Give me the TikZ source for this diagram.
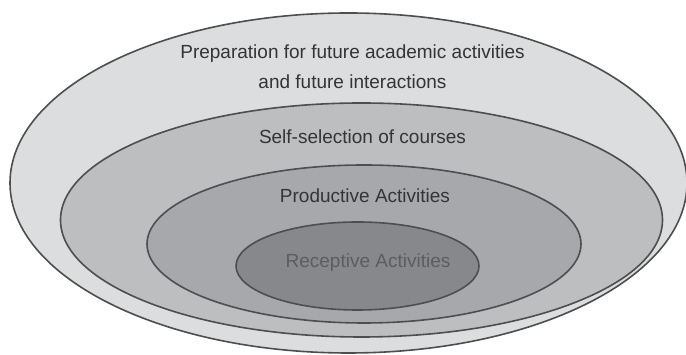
\documentclass[tikz,border=0pt]{standalone}
\usepackage{fontspec}
\setmainfont{Liberation Sans}
\usetikzlibrary{shapes.geometric}
\definecolor{RingOne}{RGB}{220,221,223}
\definecolor{RingTwo}{RGB}{189,190,192}
\definecolor{RingThree}{RGB}{167,168,171}
\definecolor{RingFour}{RGB}{135,136,139}
\definecolor{RimGray}{RGB}{78,78,80}
\definecolor{InkGray}{RGB}{52,52,54}
\definecolor{PaleInk}{RGB}{92,93,96}
\tikzset{
	ring/.style={ellipse,draw=RimGray,line width=1.6pt,inner sep=0pt},
	lbl/.style={text=InkGray,font=\fontsize{19}{30}\selectfont,align=center,inner sep=0pt},
}
\begin{document}
\begin{tikzpicture}[x=1pt,y=1pt]
	\useasboundingbox (0,0) rectangle (686,355);
	\node[ring,fill=RingOne,minimum width=677pt,minimum height=340pt] (outer) at (348.5,172) {};
	\node[ring,fill=RingTwo,minimum width=602pt,minimum height=234pt] (self) at (361.5,135) {};
	\node[ring,fill=RingThree,minimum width=434pt,minimum height=158pt] (prod) at (364,111) {};
	\node[ring,fill=RingFour,minimum width=243pt,minimum height=88pt] (recep) at (357.5,89) {};
	\node[lbl] (prep-t) at (352.5,288) {Preparation for future academic activities\\and future interactions};
	\node[lbl] (self-t) at (362.5,218) {Self-selection of courses};
	\node[lbl] (prod-t) at (365,159) {Productive Activities};
	\node[lbl,text=PaleInk] (recep-t) at (368,92) {Receptive Activities};
\end{tikzpicture}
\end{document}
